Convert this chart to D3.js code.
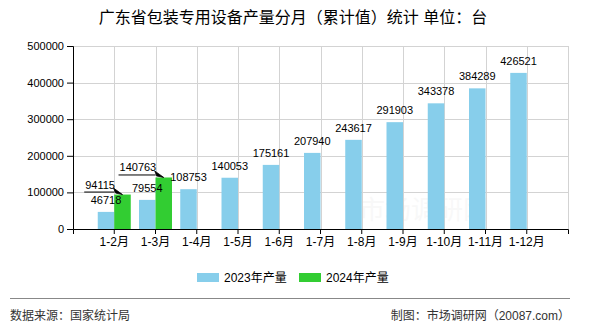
<!DOCTYPE html>
<html>
<head>
<meta charset="utf-8">
<script src="https://cdn.jsdelivr.net/npm/d3@7"></script>
<style>
  html, body { margin: 0; padding: 0; background: #fff; }
  svg { display: block; }
  text { font-family: "SimSun", "Liberation Sans", "Noto Sans CJK SC", sans-serif; }
</style>
</head>
<body>
<svg id="chart" width="590" height="330"></svg>
<script>
// Cumulative monthly output of packaging machinery, Guangdong (units)
const categories = ["1-2月", "1-3月", "1-4月", "1-5月", "1-6月", "1-7月", "1-8月", "1-9月", "1-10月", "1-11月", "1-12月"];
const output2023 = [46718, 79554, 108753, 140053, 175161, 207940, 243617, 291903, 343378, 384289, 426521];
const output2024 = [94115, 140763, null, null, null, null, null, null, null, null, null];
const yTicks = [0, 100000, 200000, 300000, 400000, 500000];
const seriesNames = ["2023年产量", "2024年产量"];
const seriesColors = ["#87CEEB", "#32CD32"];

const svg = d3.select("#chart");
const plot = { left: 73, right: 568, top: 46, bottom: 229 };

const x = d3.scaleBand()
  .domain(categories)
  .range([plot.left, plot.right])
  .paddingInner(0)
  .paddingOuter(0.5);

const y = d3.scaleLinear()
  .domain([0, 500000])
  .range([plot.bottom, plot.top]);

const barW = x.bandwidth() * 0.4;
const cx = c => x(c) + x.bandwidth() / 2;

// Title
svg.append("text")
  .attr("x", 293).attr("y", 23)
  .attr("text-anchor", "middle")
  .attr("font-size", 16)
  .attr("fill", "#000")
  .text("广东省包装专用设备产量分月（累计值）统计 单位：台");

// Faint site watermark
svg.append("text")
  .attr("x", 424).attr("y", 219)
  .attr("text-anchor", "middle")
  .attr("font-size", 26)
  .attr("fill", "#000")
  .attr("opacity", 0.025)
  .attr("style", "font-family:'Noto Sans CJK SC'")
  .text("市场调研网");

// Grid
const grid = svg.append("g").attr("stroke", "#d3d3d3").attr("stroke-width", 1);
grid.selectAll("line.h").data(yTicks.filter(d => d > 0)).join("line")
  .attr("x1", plot.left).attr("x2", plot.right)
  .attr("y1", d => Math.round(y(d)) + 0.5).attr("y2", d => Math.round(y(d)) + 0.5);
grid.selectAll("line.v").data(categories).join("line")
  .attr("x1", d => Math.round(cx(d)) + 0.5).attr("x2", d => Math.round(cx(d)) + 0.5)
  .attr("y1", plot.top).attr("y2", plot.bottom);
grid.append("line")
  .attr("x1", plot.right + 0.5).attr("x2", plot.right + 0.5)
  .attr("y1", plot.top).attr("y2", plot.bottom);

// Bars
const bars = svg.append("g");
bars.selectAll("rect.s0").data(categories).join("rect")
  .attr("x", d => cx(d) - barW)
  .attr("width", barW)
  .attr("y", (d, i) => y(output2023[i]))
  .attr("height", (d, i) => y(0) - y(output2023[i]))
  .attr("fill", seriesColors[0]);
bars.selectAll("rect.s1").data(categories.filter((d, i) => output2024[i] != null)).join("rect")
  .attr("x", d => cx(d))
  .attr("width", barW)
  .attr("y", d => y(output2024[categories.indexOf(d)]))
  .attr("height", d => y(0) - y(output2024[categories.indexOf(d)]))
  .attr("fill", seriesColors[1]);

// Axes
const yAxis = svg.append("g")
  .attr("transform", `translate(${plot.left},0)`)
  .call(d3.axisLeft(y).tickValues(yTicks).tickFormat(d3.format("d")).tickSize(6).tickPadding(3));
const xAxis = svg.append("g")
  .attr("transform", `translate(0,${plot.bottom})`)
  .call(d3.axisBottom(x).tickSize(5).tickSizeOuter(5).tickPadding(3));
[yAxis, xAxis].forEach(g => {
  g.selectAll("path, line").attr("stroke", "#000");
  g.selectAll("text").attr("fill", "#000").attr("font-size", 11)
    .style("font-family", "'SimSun','Liberation Sans','Noto Sans CJK SC',sans-serif");
});
xAxis.selectAll("text").attr("font-size", 12);

// 2023 value labels above bars
svg.append("g").selectAll("text").data(categories).join("text")
  .attr("x", d => cx(d) - barW / 2)
  .attr("y", (d, i) => y(output2023[i]) - 8)
  .attr("text-anchor", "middle")
  .attr("font-size", 11)
  .attr("fill", "#000")
  .text((d, i) => output2023[i]);

// 2024 value labels with arrow leaders
const ann = svg.append("g");
categories.forEach((c, i) => {
  const v = output2024[i];
  if (v == null) return;
  const tx = cx(c) + barW / 2;
  const ty = y(v);
  const t = ann.append("text")
    .attr("x", tx - 7.5).attr("y", ty - 6)
    .attr("text-anchor", "end")
    .attr("font-size", 11)
    .attr("fill", "#000")
    .text(v);
  const w = t.node().getComputedTextLength();
  const x0 = tx - 7.5 - w - 1;
  ann.append("path")
    .attr("d", `M${x0},${ty - 2.5}H${tx - 8}`)
    .attr("stroke", "#000").attr("stroke-width", 1).attr("fill", "none");
  ann.append("path")
    .attr("d", `M${tx},${ty}L${tx - 9},${ty - 6.5}L${tx - 7},${ty - 1.5}Z`)
    .attr("fill", "#000").attr("stroke", "#000").attr("stroke-width", 0.8);
});

// Legend
const legend = svg.append("g");
const legendX = [197, 299];
seriesNames.forEach((name, i) => {
  legend.append("rect")
    .attr("x", legendX[i]).attr("y", 273)
    .attr("width", 22).attr("height", 9)
    .attr("fill", seriesColors[i]);
  legend.append("text")
    .attr("x", legendX[i] + 27).attr("y", 281.5)
    .attr("font-size", 12).attr("fill", "#000")
    .text(name);
});

// Footer
svg.append("line")
  .attr("x1", 10).attr("x2", 570)
  .attr("y1", 298.5).attr("y2", 298.5)
  .attr("stroke", "#888").attr("stroke-width", 1);
svg.append("text")
  .attr("x", 10).attr("y", 320)
  .attr("font-size", 12).attr("fill", "#333")
  .text("数据来源：国家统计局");
svg.append("text")
  .attr("x", 570).attr("y", 320)
  .attr("text-anchor", "end")
  .attr("font-size", 12).attr("fill", "#333")
  .text("制图：市场调研网（20087.com）");
</script>
</body>
</html>
